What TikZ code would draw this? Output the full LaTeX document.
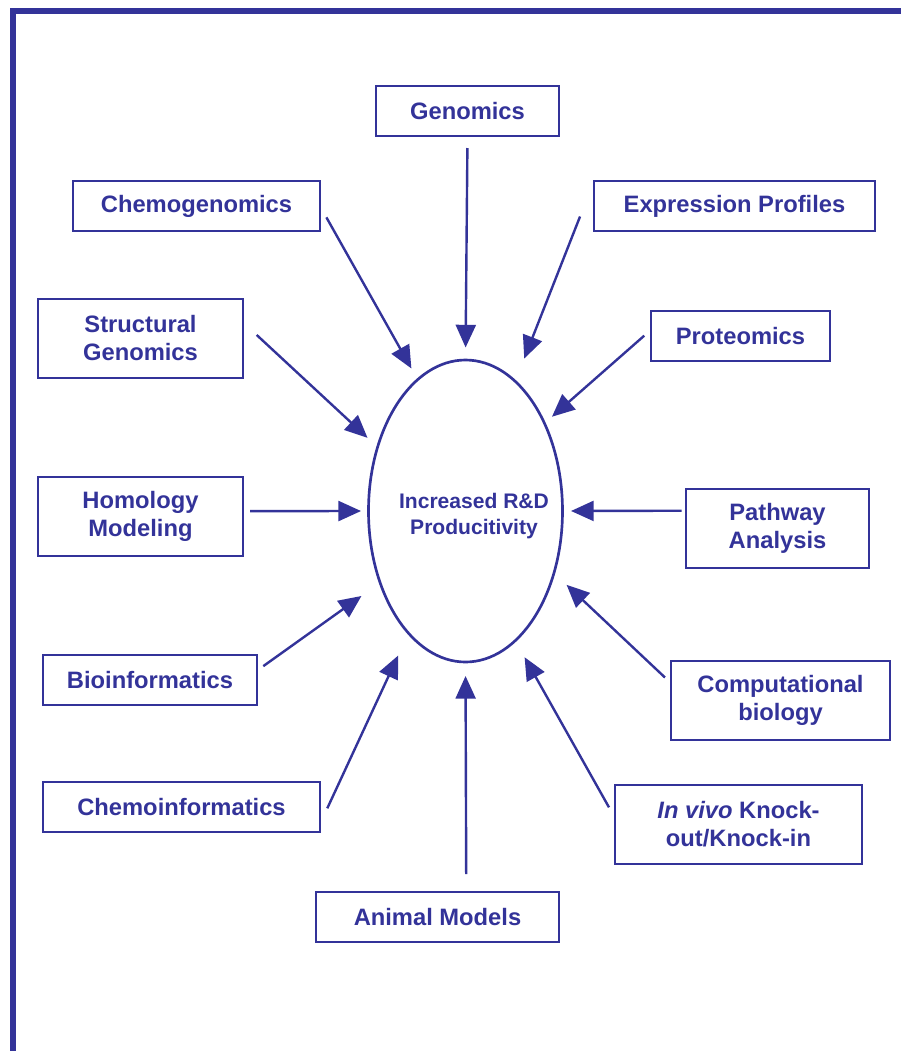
\documentclass[tikz,border=0pt]{standalone}
\usepackage{fontspec}
\setmainfont{Liberation Sans}
\usetikzlibrary{arrows.meta,shapes.geometric}
\definecolor{navy}{RGB}{51,51,153}

\begin{document}
\begin{tikzpicture}[x=0.75pt,y=-0.75pt,
    box/.style={draw=navy, line width=1.4pt, text=navy, inner sep=0pt, outer sep=0pt,
      align=center, font=\fontsize{17.8}{21}\selectfont\bfseries},
    arr/.style={navy, line width=1.8pt, -{Triangle[length=17pt,width=15pt]}}]
    \useasboundingbox (0,0) rectangle (901,1051);

    % frame
    \fill[navy] (10,8) rectangle (901,14);
    \fill[navy] (10,8) rectangle (16,1051);

    % centre
    \node[ellipse, draw=navy, line width=2pt, minimum width=145.5pt, minimum height=226.5pt,
      inner sep=0pt, outer sep=0pt] (prod) at (465.5,511) {};
    \node[text=navy, align=center, font=\fontsize{15.8}{19.5}\selectfont\bfseries]
      (prodtext) at (474,516) {Increased R\&D\\Producitivity};

    % boxes
    \node[box, minimum width=137.25pt, minimum height=37.5pt] (genomics) at (467.5,111) {Genomics};
    \node[box, minimum width=185.25pt, minimum height=37.5pt] (chemo) at (196.5,206) {Chemogenomics};
    \node[box, minimum width=210.75pt, minimum height=37.5pt] (expr) at (734.5,206) {Expression Profiles};
    \node[box, minimum width=153.75pt, minimum height=59.25pt] (struct) at (140.5,338.5) {Structural\\Genomics};
    \node[box, minimum width=134.25pt, minimum height=37.5pt] (prot) at (740.5,336) {Proteomics};
    \node[box, minimum width=153.75pt, minimum height=59.25pt] (homol) at (140.5,516.5) {Homology\\Modeling};
    \node[box, minimum width=137.25pt, minimum height=59.25pt] (pathway) at (777.5,528.5) {Pathway\\Analysis};
    \node[box, minimum width=160.5pt, minimum height=37.5pt] (bioinf) at (150,680) {Bioinformatics};
    \node[box, minimum width=164.25pt, minimum height=59.25pt] (comp) at (780.5,700.5) {Computational\\biology};
    \node[box, minimum width=207.75pt, minimum height=37.5pt] (cheminf) at (181.5,807) {Chemoinformatics};
    \node[box, minimum width=185.25pt, minimum height=59.25pt] (vivo) at (738.5,824.5) {{\itshape In vivo} Knock-\\out/Knock-in};
    \node[box, minimum width=182.25pt, minimum height=37.5pt] (animal) at (437.5,917) {Animal Models};

    % arrows
    \foreach \boxa/\anga/\gapa/\gapb in {genomics.south/north/9/9.4, chemo.east/110/9.75/9.6,
        expr.north west/69/28.6/18.4, struct.9/144/14/10.3, prot.176/48/6.75/7.5,
        homol.3/180/5.25/5.6, pathway.169/0/3.2/6.4, bioinf.5/220/5.8/17.2,
        comp.171/325/6.2/13, cheminf.353/245/13/18.5, vivo.177/291/9.2/14.3,
        animal.41/south/13.5/10.5}
    \draw[arr, shorten <=\gapa pt, shorten >=\gapb pt] (\boxa) -- (prod.\anga);
\end{tikzpicture}
\end{document}
